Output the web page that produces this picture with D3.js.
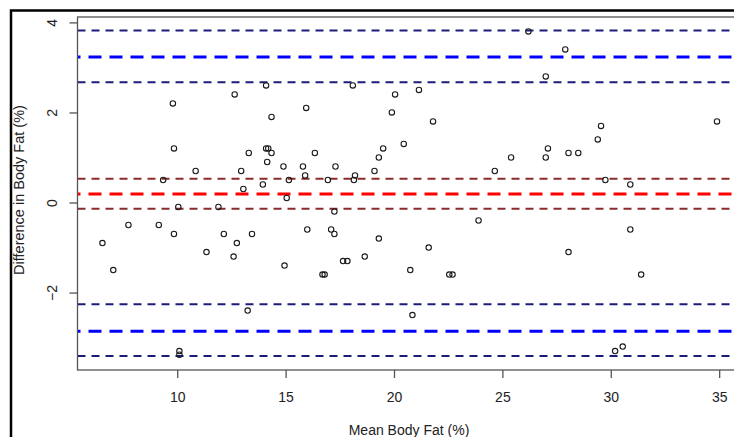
<!DOCTYPE html>
<html>
<head>
<meta charset="utf-8">
<script src="https://cdn.jsdelivr.net/npm/d3@7"></script>
<style>
  html, body { margin: 0; padding: 0; background: #fff; }
  svg { display: block; }
  text { font-family: "Liberation Sans", Arial, sans-serif; fill: #222; }
</style>
</head>
<body>
<svg id="chart" width="734" height="437"></svg>
<script>
// ---- data ----
const meanFat = [9.8, 12.65, 9.85, 10.85, 12.95, 13.3, 9.35, 13.05, 10.05, 11.9,
  14.1, 18.1, 20.05, 21.15, 19.9, 15.95, 14.35, 21.8, 20.45, 14.1,
  14.2, 14.35, 16.35, 19.5, 19.3, 14.15, 14.9, 15.8, 17.3, 19.1,
  15.9, 18.2, 15.15, 16.95, 18.15, 13.95, 15.05, 17.25, 23.9, 26.2,
  27.9, 27.0, 34.9, 29.55, 29.4, 27.1, 27.0, 28.05, 28.5, 25.4,
  24.65, 29.75, 30.9, 6.55, 7.75, 9.15, 9.85, 7.05, 11.35, 12.15,
  12.75, 12.6, 13.45, 10.1, 10.1, 13.25, 16.0, 17.1, 17.25, 19.3,
  21.6, 14.95, 17.65, 17.85, 18.65, 16.7, 16.8, 20.75, 22.55, 22.7,
  20.85, 30.9, 28.05, 31.4, 30.2, 30.55];
const diffFat = [2.2, 2.4, 1.2, 0.7, 0.7, 1.1, 0.5, 0.3, -0.1, -0.1,
  2.6, 2.6, 2.4, 2.5, 2.0, 2.1, 1.9, 1.8, 1.3, 1.2,
  1.2, 1.1, 1.1, 1.2, 1.0, 0.9, 0.8, 0.8, 0.8, 0.7,
  0.6, 0.6, 0.5, 0.5, 0.5, 0.4, 0.1, -0.2, -0.4, 3.8,
  3.4, 2.8, 1.8, 1.7, 1.4, 1.2, 1.0, 1.1, 1.1, 1.0,
  0.7, 0.5, 0.4, -0.9, -0.5, -0.5, -0.7, -1.5, -1.1, -0.7,
  -0.9, -1.2, -0.7, -3.3, -3.38, -2.4, -0.6, -0.6, -0.7, -0.8,
  -1.0, -1.4, -1.3, -1.3, -1.2, -1.6, -1.6, -1.5, -1.6, -1.6,
  -2.5, -0.6, -1.1, -1.6, -3.3, -3.2];
// [lower CI, estimate, upper CI]
const meanBias = [-0.14, 0.19, 0.53];
const upperLoA = [2.67, 3.23, 3.82];
const lowerLoA = [-3.41, -2.86, -2.26];
const xTicks = [10, 15, 20, 25, 30, 35];
const yTicks = [-2, 0, 2, 4];
const xLabel = "Mean Body Fat (%)";
const yLabel = "Difference in Body Fat (%)";

// ---- layout ----
const svg = d3.select("#chart");
const plot = { left: 77.5, right: 741.5, top: 17, bottom: 370 };
const x = d3.scaleLinear().domain([5.4, 36.03]).range([plot.left, plot.right]);
const y = d3.scaleLinear().domain([-3.72, 4.12]).range([plot.bottom, plot.top]);

// outer frame
svg.append("rect")
  .attr("x", 11).attr("y", 10.5)
  .attr("width", 760).attr("height", 460)
  .attr("fill", "none").attr("stroke", "#000").attr("stroke-width", 2.5);

svg.append("clipPath").attr("id", "clip")
  .append("rect")
  .attr("x", plot.left).attr("y", plot.top)
  .attr("width", plot.right - plot.left).attr("height", plot.bottom - plot.top);

const g = svg.append("g").attr("clip-path", "url(#clip)");

function hline(v, color, width, dash, offset) {
  g.append("line")
    .attr("x1", plot.left).attr("x2", plot.right)
    .attr("y1", y(v)).attr("y2", y(v))
    .attr("stroke", color).attr("stroke-width", width)
    .attr("stroke-dasharray", dash)
    .attr("stroke-dashoffset", offset);
}

// limits of agreement
[upperLoA, lowerLoA].forEach(arr => {
  hline(arr[0], "#1c1c78", 2, "8,6", 0);
  hline(arr[1], "#0000ff", 3, "13,8", -11);
  hline(arr[2], "#1c1c78", 2, "8,6", 0);
});
// mean bias
hline(meanBias[0], "#8b2c2c", 2, "8,6", 0);
hline(meanBias[1], "#ff0000", 3, "13,8", -11);
hline(meanBias[2], "#8b2c2c", 2, "8,6", 0);

// points
g.selectAll("circle.pt")
  .data(meanFat.map((m, i) => [m, diffFat[i]]))
  .enter().append("circle")
  .attr("class", "pt")
  .attr("cx", d => x(d[0])).attr("cy", d => y(d[1]))
  .attr("r", 2.7)
  .attr("fill", "none").attr("stroke", "#1a1a1a").attr("stroke-width", 1.1);

// plot box
svg.append("rect")
  .attr("x", plot.left).attr("y", plot.top)
  .attr("width", plot.right - plot.left).attr("height", plot.bottom - plot.top)
  .attr("fill", "none").attr("stroke", "#555").attr("stroke-width", 1.3);

// x axis
const xAxis = svg.append("g")
  .attr("transform", `translate(0,${plot.bottom})`)
  .call(d3.axisBottom(x).tickValues(xTicks).tickSize(8).tickPadding(14).tickFormat(d3.format("d")));
xAxis.select(".domain").remove();
xAxis.selectAll("line").attr("stroke", "#555").attr("stroke-width", 1.3);
xAxis.selectAll("text").attr("font-size", 14).attr("fill", "#222")
  .attr("font-family", "Liberation Sans, Arial, sans-serif");

// y axis
const yAxis = svg.append("g")
  .attr("transform", `translate(${plot.left},0)`)
  .call(d3.axisLeft(y).tickValues(yTicks).tickSize(8).tickFormat(d3.format("d")));
yAxis.select(".domain").remove();
yAxis.selectAll("line").attr("stroke", "#555").attr("stroke-width", 1.3);
yAxis.selectAll("text")
  .attr("font-size", 14).attr("fill", "#222")
  .attr("font-family", "Liberation Sans, Arial, sans-serif")
  .attr("x", null).attr("dy", null)
  .attr("text-anchor", "middle")
  .attr("transform", "translate(-25.5,0) rotate(-90)")
  .attr("dominant-baseline", "central");

// axis titles
svg.append("text")
  .attr("x", (plot.left + plot.right) / 2 - 0.5).attr("y", 435)
  .attr("text-anchor", "middle").attr("font-size", 14)
  .text(xLabel);
svg.append("text")
  .attr("transform", `translate(24,${190}) rotate(-90)`)
  .attr("text-anchor", "middle").attr("font-size", 14.5)
  .text(yLabel);
</script>
</body>
</html>
